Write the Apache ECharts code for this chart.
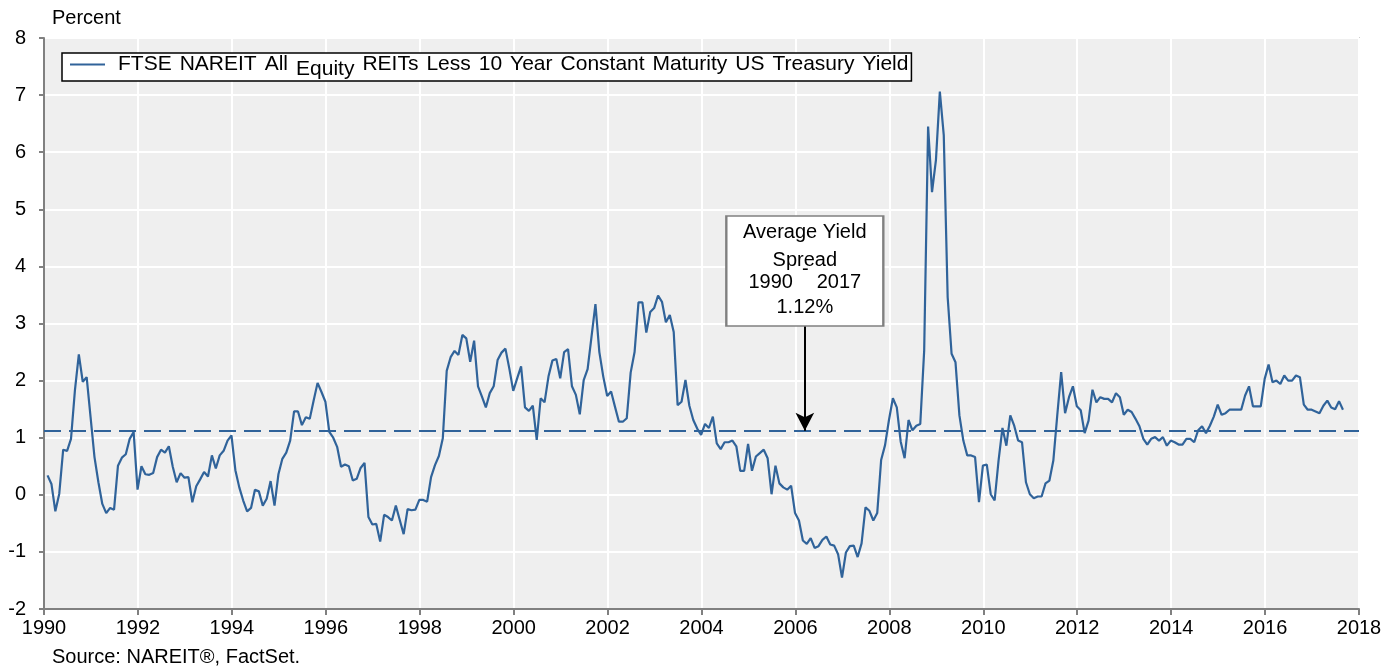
<!DOCTYPE html>
<html>
<head>
<meta charset="utf-8">
<script src="https://cdn.jsdelivr.net/npm/echarts@6/dist/echarts.min.js"></script>
<style>
  html, body { margin: 0; padding: 0; background: #ffffff; }
  #chart { width: 1396px; height: 669px; }
</style>
</head>
<body>
<div id="chart"></div>
<script>
// ---- Data: monthly yield spread (percent), starting January 1990 ----
const startYear = 1990;
// Jan 1990 – Nov 1996
const spread1990to1996 = [0.34, 0.19, -0.29, 0.02, 0.79, 0.77, 0.98, 1.83, 2.46, 1.98, 2.06, 1.36, 0.66, 0.22, -0.16, -0.32, -0.23, -0.26, 0.51, 0.65, 0.71, 0.98, 1.1, 0.09, 0.5, 0.36, 0.35, 0.38, 0.66, 0.79, 0.74, 0.85, 0.49, 0.22, 0.38, 0.3, 0.31, -0.13, 0.15, 0.27, 0.4, 0.32, 0.69, 0.46, 0.69, 0.77, 0.95, 1.04, 0.43, 0.13, -0.1, -0.29, -0.23, 0.09, 0.06, -0.19, -0.07, 0.24, -0.19, 0.36, 0.63, 0.74, 0.95, 1.46, 1.46, 1.22, 1.36, 1.33, 1.65, 1.96, 1.8, 1.63, 1.1, 1.0, 0.84, 0.49, 0.53, 0.5, 0.25, 0.28, 0.47, 0.56, -0.39];
// Dec 1996 – Nov 2003
const spread1996to2003 = [-0.52, -0.51, -0.82, -0.35, -0.39, -0.45, -0.19, -0.44, -0.69, -0.25, -0.27, -0.26, -0.09, -0.09, -0.12, 0.31, 0.52, 0.68, 0.99, 2.17, 2.41, 2.52, 2.45, 2.8, 2.74, 2.33, 2.7, 1.9, 1.72, 1.53, 1.78, 1.9, 2.36, 2.49, 2.56, 2.21, 1.82, 2.04, 2.25, 1.53, 1.47, 1.56, 0.96, 1.69, 1.62, 2.07, 2.35, 2.38, 2.04, 2.5, 2.55, 1.9, 1.75, 1.41, 2.01, 2.2, 2.77, 3.34, 2.5, 2.07, 1.73, 1.81, 1.54, 1.28, 1.28, 1.34, 2.14, 2.5, 3.37, 3.37, 2.84, 3.2, 3.27, 3.49, 3.38, 3.02, 3.15, 2.85, 1.57, 1.63, 2.01, 1.56, 1.31, 1.16];
// Dec 2003 – Aug 2008
const spread2003to2008 = [1.05, 1.24, 1.17, 1.37, 0.9, 0.8, 0.92, 0.92, 0.95, 0.85, 0.42, 0.42, 0.89, 0.42, 0.67, 0.73, 0.79, 0.64, 0.01, 0.51, 0.2, 0.13, 0.09, 0.16, -0.32, -0.45, -0.8, -0.86, -0.76, -0.93, -0.9, -0.79, -0.73, -0.87, -0.89, -1.04, -1.45, -1.01, -0.9, -0.89, -1.09, -0.85, -0.22, -0.28, -0.45, -0.32, 0.61, 0.87, 1.31, 1.69, 1.53, 0.93, 0.64, 1.31, 1.13, 1.21, 1.24];
// Sep 2008 – Aug 2011
const spread2008to2011 = [2.53, 6.45, 5.3, 5.86, 7.06, 6.3, 3.46, 2.47, 2.32, 1.39, 0.95, 0.69, 0.69, 0.66, -0.13, 0.51, 0.53, 0.01, -0.1, 0.6, 1.17, 0.86, 1.39, 1.21, 0.95, 0.92, 0.22, 0.01, -0.06, -0.03, -0.03, 0.2, 0.25, 0.6, 1.39, 2.15];
// Sep 2011 – Aug 2017
const spread2011to2017 = [1.43, 1.71, 1.9, 1.55, 1.48, 1.08, 1.3, 1.84, 1.62, 1.71, 1.68, 1.68, 1.62, 1.78, 1.71, 1.4, 1.49, 1.45, 1.33, 1.2, 0.98, 0.88, 0.98, 1.01, 0.95, 1.01, 0.86, 0.95, 0.92, 0.88, 0.88, 0.98, 0.98, 0.92, 1.13, 1.2, 1.08, 1.21, 1.37, 1.58, 1.4, 1.43, 1.49, 1.49, 1.49, 1.49, 1.74, 1.9, 1.55, 1.55, 1.55, 2.03, 2.28, 1.97, 2.0, 1.94, 2.09, 2.0, 2.0, 2.09, 2.06, 1.58, 1.49, 1.49, 1.46, 1.43, 1.56, 1.65, 1.53, 1.5, 1.64, 1.49];

const averageSpread = 1.12;
const annotationYear = 2006.2;
const annotationBoxValue = 3.92;
const arrowTopValue = 2.96;

const seriesName = 'FTSE NAREIT All Equity REITs Less 10 Year Constant Maturity US Treasury Yield';
const xTickMin = 1990, xTickMax = 2018, xTickStep = 2;
const yTickMin = -2, yTickMax = 8, yTickStep = 1;

// ---- Build series points (month-end positions) ----
const allValues = [].concat(spread1990to1996, spread1996to2003, spread2003to2008, spread2008to2011, spread2011to2017);
const points = allValues.map((v, i) => [startYear + (i + 0.9) / 12, v]);

const FONT = "'Liberation Sans', Arial, Helvetica, sans-serif";
const BLUE = '#30639a';

// legend text: words joined by slightly wider gaps, "Equity" set lower
function legendText() {
  const before = ['FTSE', 'NAREIT', 'All'];
  const after = ['REITs', 'Less', '10', 'Year', 'Constant', 'Maturity', 'US', 'Treasury', 'Yield'];
  const w = s => '{a|' + s + '}';
  return '{s|}' + before.map(w).join('{g|}') + '{g|}{b|Equity}{g|}' + after.map(w).join('{g|}');
}

const chart = echarts.init(document.getElementById('chart'), null, { renderer: 'canvas' });

chart.setOption({
  animation: false,
  backgroundColor: '#ffffff',
  textStyle: { fontFamily: FONT, color: '#000' },
  title: [
    { text: 'Percent', left: 47, top: 3, padding: 5,
      textStyle: { fontFamily: FONT, fontSize: 20, fontWeight: 'normal', color: '#000' } },
    { text: 'Source: NAREIT®, FactSet.', left: 47, top: 642, padding: 5,
      textStyle: { fontFamily: FONT, fontSize: 20, fontWeight: 'normal', color: '#000' } }
  ],
  legend: {
    data: [{ name: seriesName, icon: 'rect' }],
    left: 62, top: 53,
    padding: [1, 3, 1, 8],
    borderColor: '#000', borderWidth: 1.5, backgroundColor: '#fff',
    itemWidth: 35, itemHeight: 2,
    selectedMode: false,
    itemStyle: { color: BLUE },
    formatter: legendText,
    textStyle: {
      fontFamily: FONT, fontSize: 21, color: '#000',
      rich: {
        s: { width: 8 },
        g: { width: 8 },
        a: { fontFamily: FONT, fontSize: 21, lineHeight: 21, color: '#000' },
        b: { fontFamily: FONT, fontSize: 21, lineHeight: 21, color: '#000', padding: [5, 0, -5, 0] }
      }
    }
  },
  grid: {
    left: 44, right: 37, top: 38, bottom: 60,
    show: true, backgroundColor: '#efefef', borderColor: '#cfcfcf', borderWidth: 2,
    containLabel: false, outerBoundsMode: 'none'
  },
  xAxis: {
    type: 'value', min: xTickMin, max: xTickMax, interval: xTickStep,
    axisLine: { show: true, onZero: false, lineStyle: { color: '#808080', width: 2 } },
    axisTick: { show: true, length: 6, lineStyle: { color: '#808080', width: 2 } },
    splitLine: { show: true, lineStyle: { color: '#ffffff', width: 2 } },
    axisLabel: { color: '#000', fontFamily: FONT, fontSize: 20, margin: 9, formatter: v => String(v) }
  },
  yAxis: {
    type: 'value', min: yTickMin, max: yTickMax, interval: yTickStep,
    axisLine: { show: true, onZero: false, lineStyle: { color: '#808080', width: 2 } },
    axisTick: { show: true, length: 5, lineStyle: { color: '#808080', width: 2 } },
    splitLine: { show: true, lineStyle: { color: '#ffffff', width: 2 } },
    axisLabel: { color: '#000', fontFamily: FONT, fontSize: 20, margin: 18 }
  },
  series: [
    {
      name: seriesName,
      type: 'line',
      data: points,
      symbol: 'none',
      lineStyle: { color: BLUE, width: 2.2 },
      itemStyle: { color: BLUE },
      z: 3,
      markLine: {
        silent: true,
        symbol: ['none', 'none'],
        label: { show: false },
        data: [
          { yAxis: averageSpread, lineStyle: { color: BLUE, width: 2, type: [17, 8] } },
          [
            { coord: [annotationYear, arrowTopValue], symbol: 'none', lineStyle: { color: '#000', width: 2, type: 'solid' } },
            { coord: [annotationYear, averageSpread], symbol: 'arrow', symbolSize: [14, 18] }
          ]
        ]
      },
      markPoint: {
        silent: true,
        data: [
          {
            coord: [annotationYear, annotationBoxValue],
            symbol: 'rect',
            symbolSize: [157, 110],
            itemStyle: { color: '#ffffff', borderColor: '#808080', borderWidth: 2 },
            label: {
              show: true, position: 'inside', color: '#000', fontFamily: FONT, fontSize: 20,
              formatter: '{t|Average Yield}\n{t2|Spread}\n{y|1990}{h|-}{y|2017}\n{p|1.12%}',
              rich: {
                t: { fontFamily: FONT, fontSize: 20, lineHeight: 30, color: '#000' },
                t2: { fontFamily: FONT, fontSize: 20, lineHeight: 26, color: '#000' },
                y: { fontFamily: FONT, fontSize: 20, lineHeight: 18, color: '#000' },
                h: { fontFamily: FONT, fontSize: 20, lineHeight: 18, color: '#000', padding: [-13, 8, 13, 9] },
                p: { fontFamily: FONT, fontSize: 20, lineHeight: 32, color: '#000' }
              }
            }
          }
        ]
      }
    }
  ]
});
</script>
</body>
</html>
